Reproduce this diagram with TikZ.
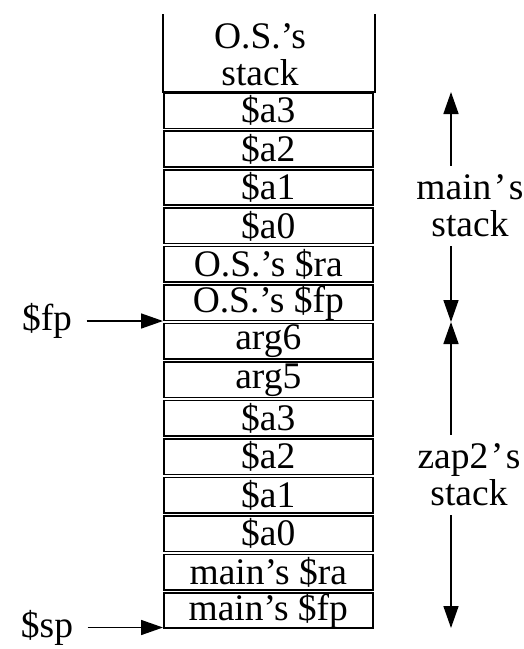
\documentclass[tikz,border=0pt]{standalone}
\usepackage{fontspec}
\setmainfont{Liberation Serif}
\usetikzlibrary{arrows.meta}
\newcommand{\apos}{\kern2.5pt’\kern2.5pt}
\begin{document}
\begin{tikzpicture}[x=1pt,y=-1pt,
  every node/.style={font=\fontsize{37.5}{37}\selectfont},
  slot/.style={draw,line width=1.6pt,minimum width=209pt,minimum height=35.5pt,
    inner sep=0pt,anchor=north west},
  ptr/.style={line width=1.6pt,-{Triangle[length=22pt,width=15pt]}},
  span/.style={align=center,inner xsep=0pt,inner ysep=9pt}]
\useasboundingbox (0,0) rectangle (524,649);
% the operating system's region at the top, open above
\draw[line width=1.6pt] (163,14) -- (163,92) -- (375,92) -- (375,14);
\node[align=center] (os) at (260,55) {O.S.’s\\stack};
% stack slots, one word each
\foreach \i/\t in {0/\$a3,1/\$a2,2/\$a1,3/\$a0,4/O.S.’s \$ra,5/O.S.’s \$fp,
                   6/arg6,7/arg5,8/\$a3,9/\$a2,10/\$a1,11/\$a0,
                   12/main’s \$ra,13/main’s \$fp}
  \node[slot] (b\i) at (163,{92+38.46*\i}) {\t};
% frame and stack pointers
\node (fp) at (47,321) {\$fp};
\node (sp) at (47,627.5) {\$sp};
\draw[ptr,shorten <=11pt] (fp.east) -- (fp.east -| b6.west);
\draw[ptr,shorten <=11pt] (sp.east) -- (sp.east -| b13.south west);
% extents of the two frames
\coordinate (mtop) at (451,92);
\coordinate (mmid) at (451,322);
\coordinate (zbot) at (451,628);
\node[span] (main) at (470,206) {main\apos s\\stack};
\node[span] (zap) at (469,475) {zap2\apos s\\stack};
\draw[ptr] (mtop |- main.north) -- (mtop);
\draw[ptr] (mtop |- main.south) -- (mmid);
\draw[ptr] (mmid |- zap.north) -- (mmid);
\draw[ptr] (mmid |- zap.south) -- (zbot);
\end{tikzpicture}
\end{document}
